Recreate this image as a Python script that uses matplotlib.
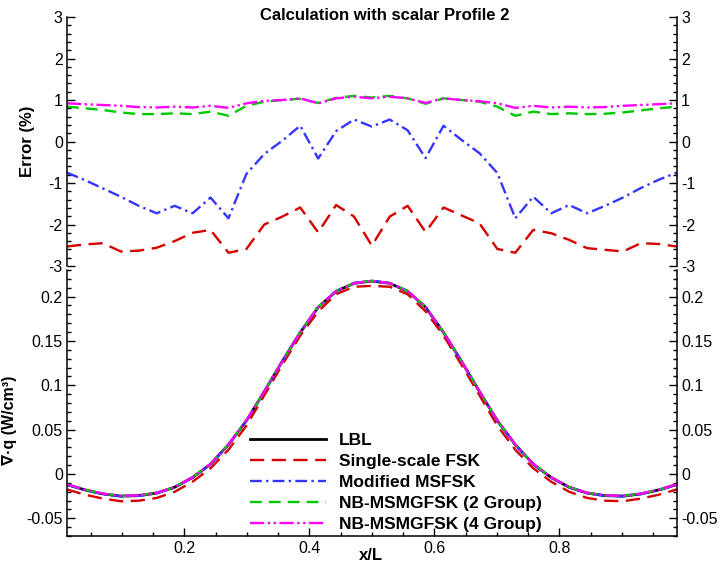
import matplotlib
matplotlib.use("Agg")
import matplotlib.pyplot as plt
from matplotlib.ticker import MultipleLocator, FormatStrFormatter

plt.rcParams['font.family'] = ['Liberation Sans', 'DejaVu Sans']
plt.rcParams['axes.unicode_minus'] = False

# x/L grid (cell centres, 35 points)
x_pos = [0.0123, 0.0410, 0.0697, 0.0984, 0.1271, 0.1558, 0.1845, 0.2132, 0.2419,
         0.2706, 0.2993, 0.3280, 0.3567, 0.3854, 0.4141, 0.4428, 0.4715, 0.5000,
         0.5285, 0.5572, 0.5859, 0.6146, 0.6433, 0.6720, 0.7007, 0.7294, 0.7581,
         0.7868, 0.8155, 0.8442, 0.8729, 0.9016, 0.9303, 0.9590, 0.9877]

# error (%)
err_single = [-2.53, -2.48, -2.45, -2.65, -2.63, -2.56, -2.40, -2.20, -2.13, -2.68,
              -2.59, -2.00, -1.81, -1.59, -2.19, -1.53, -1.81, -2.51, -1.81, -1.55,
              -2.18, -1.59, -1.78, -1.97, -2.59, -2.68, -2.13, -2.21, -2.37, -2.57,
              -2.61, -2.65, -2.45, -2.47, -2.53]
err_msfsk = [-0.75, -0.93, -1.13, -1.33, -1.55, -1.73, -1.55, -1.73, -1.35, -1.85,
             -0.78, -0.30, 0.02, 0.38, -0.41, 0.25, 0.53, 0.36, 0.53, 0.27,
             -0.40, 0.38, 0.04, -0.28, -0.76, -1.85, -1.33, -1.73, -1.53, -1.73,
             -1.55, -1.35, -1.12, -0.92, -0.75]
err_nb2 = [0.84, 0.80, 0.76, 0.70, 0.66, 0.66, 0.68, 0.66, 0.72, 0.62,
           0.86, 0.96, 1.00, 1.03, 0.93, 1.05, 1.10, 1.06, 1.10, 1.04,
           0.91, 1.04, 1.00, 0.96, 0.84, 0.62, 0.72, 0.66, 0.68, 0.66,
           0.67, 0.70, 0.75, 0.80, 0.84]
err_nb4 = [0.92, 0.90, 0.88, 0.86, 0.83, 0.82, 0.84, 0.82, 0.86, 0.81,
           0.92, 0.98, 1.00, 1.04, 0.92, 1.04, 1.08, 1.04, 1.08, 1.04,
           0.93, 1.04, 1.00, 0.97, 0.92, 0.81, 0.86, 0.82, 0.84, 0.82,
           0.83, 0.86, 0.88, 0.90, 0.92]

# div q (W/cm^3)
q_lbl = [-0.0120, -0.0180, -0.0225, -0.0250, -0.0245, -0.0215, -0.0150, -0.0040, 0.0110,
         0.0330, 0.0600, 0.0930, 0.1270, 0.1595, 0.1880, 0.2060, 0.2150, 0.2175,
         0.2150, 0.2060, 0.1880, 0.1595, 0.1270, 0.0930, 0.0600, 0.0330, 0.0110,
         -0.0040, -0.0150, -0.0215, -0.0245, -0.0250, -0.0225, -0.0180, -0.0120]
q_single = [-0.0175, -0.0234, -0.0278, -0.0308, -0.0302, -0.0271, -0.0202, -0.0088, 0.0064,
            0.0272, 0.0544, 0.0887, 0.1231, 0.1560, 0.1832, 0.2027, 0.2111, 0.2121,
            0.2111, 0.2026, 0.1833, 0.1560, 0.1231, 0.0887, 0.0544, 0.0272, 0.0064,
            -0.0088, -0.0201, -0.0271, -0.0302, -0.0308, -0.0278, -0.0234, -0.0175]
q_msfsk = [-0.0122, -0.0183, -0.0228, -0.0253, -0.0248, -0.0219, -0.0154, -0.0044, 0.0107,
           0.0326, 0.0598, 0.0929, 0.1270, 0.1597, 0.1879, 0.2061, 0.2153, 0.2177,
           0.2153, 0.2061, 0.1879, 0.1597, 0.1270, 0.0929, 0.0598, 0.0326, 0.0107,
           -0.0044, -0.0154, -0.0219, -0.0248, -0.0253, -0.0228, -0.0183, -0.0122]
q_nb2 = [-0.0118, -0.0178, -0.0223, -0.0248, -0.0243, -0.0213, -0.0148, -0.0038, 0.0112,
         0.0332, 0.0602, 0.0932, 0.1272, 0.1597, 0.1882, 0.2062, 0.2152, 0.2177,
         0.2152, 0.2062, 0.1882, 0.1597, 0.1272, 0.0932, 0.0602, 0.0332, 0.0112,
         -0.0038, -0.0148, -0.0213, -0.0243, -0.0248, -0.0223, -0.0178, -0.0118]
q_nb4 = [-0.0117, -0.0177, -0.0222, -0.0247, -0.0242, -0.0213, -0.0148, -0.0038, 0.0112,
         0.0332, 0.0602, 0.0932, 0.1272, 0.1597, 0.1882, 0.2062, 0.2152, 0.2177,
         0.2152, 0.2062, 0.1882, 0.1597, 0.1272, 0.0932, 0.0602, 0.0332, 0.0112,
         -0.0038, -0.0148, -0.0213, -0.0242, -0.0247, -0.0222, -0.0177, -0.0117]

labels = ['LBL', 'Single-scale FSK', 'Modified MSFSK',
          'NB-MSMGFSK (2 Group)', 'NB-MSMGFSK (4 Group)']

RED = '#d40000'
BLUE = '#3535ff'
GREEN = '#00c800'
MAGENTA = '#ff00ff'
LW = 1.7
TICK_SIZE = 11.5


def style_axis(ax):
    ax.spines['top'].set_visible(False)
    for side in ['left', 'right', 'bottom']:
        ax.spines[side].set_linewidth(1.1)
    ax.tick_params(axis='y', which='both', direction='in', left=True, right=True,
                   labelleft=True, labelright=True, labelsize=TICK_SIZE, width=1.0,
                   pad=3)
    ax.tick_params(axis='y', which='major', length=6)
    ax.tick_params(axis='y', which='minor', length=3)


def main():
    fig = plt.figure(figsize=(7.2, 5.69), dpi=100)
    ax_err = fig.add_axes([0.093, 0.5325, 0.847, 0.4376])
    ax_q = fig.add_axes([0.093, 0.058, 0.847, 0.4675])

    # upper panel: error relative to LBL
    ax_err.plot(x_pos, err_single, color=RED, lw=LW, dashes=(6, 3.2))
    ax_err.plot(x_pos, err_msfsk, color=BLUE, lw=LW, dashes=(5, 1.8, 1, 1.8))
    ax_err.plot(x_pos, err_nb2, color=GREEN, lw=LW, dashes=(5, 3))
    ax_err.plot(x_pos, err_nb4, color=MAGENTA, lw=LW, dashes=(6, 1.5, 1, 1.5, 1, 1.5))
    ax_err.set_xlim(0.0123, 0.9877)
    ax_err.set_ylim(-3, 3)
    style_axis(ax_err)
    ax_err.spines['bottom'].set_visible(False)
    ax_err.xaxis.set_visible(False)
    ax_err.yaxis.set_major_locator(MultipleLocator(1))
    ax_err.yaxis.set_minor_locator(MultipleLocator(0.2))
    ax_err.yaxis.set_major_formatter(FormatStrFormatter('%g'))
    ax_err.set_ylabel('Error (%)', fontsize=12, fontweight='bold')
    ax_err.yaxis.set_label_coords(-0.053, 0.5)

    # lower panel: divergence of heat flux
    ax_q.plot(x_pos, q_lbl, color='black', lw=2.0, label=labels[0])
    ax_q.plot(x_pos, q_single, color=RED, lw=LW, dashes=(6, 3.2), label=labels[1])
    ax_q.plot(x_pos, q_msfsk, color=BLUE, lw=LW, dashes=(5, 1.8, 1, 1.8), label=labels[2])
    ax_q.plot(x_pos, q_nb2, color=GREEN, lw=LW, dashes=(5, 3), label=labels[3])
    ax_q.plot(x_pos, q_nb4, color=MAGENTA, lw=LW, dashes=(6, 1.5, 1, 1.5, 1, 1.5),
              label=labels[4])
    ax_q.set_xlim(0.0123, 0.9877)
    ax_q.set_ylim(-0.07, 0.23)
    style_axis(ax_q)
    ax_q.yaxis.set_major_locator(MultipleLocator(0.05))
    ax_q.yaxis.set_minor_locator(MultipleLocator(0.01))
    ax_q.yaxis.set_major_formatter(FormatStrFormatter('%g'))
    ax_q.xaxis.set_major_locator(MultipleLocator(0.2))
    ax_q.xaxis.set_minor_locator(MultipleLocator(0.05))
    ax_q.xaxis.set_major_formatter(FormatStrFormatter('%g'))
    ax_q.tick_params(axis='x', which='both', direction='in', top=False, bottom=True,
                     labelsize=TICK_SIZE, width=1.0)
    ax_q.tick_params(axis='x', which='major', length=6)
    ax_q.tick_params(axis='x', which='minor', length=3)
    ax_q.set_ylabel('\u2207\u00b7q (W/cm\u00b3)', fontsize=11.5, fontweight='bold')
    ax_q.yaxis.set_label_coords(-0.082, 0.436)

    ax_q.legend(loc='lower left', bbox_to_anchor=(0.30, 0.015), frameon=False,
                prop={'weight': 'bold', 'size': 12.5}, handlelength=4.4,
                handletextpad=0.75, labelspacing=0.33, borderpad=0, borderaxespad=0)

    fig.text(0.534, 1 - 20 / 569, 'Calculation with scalar Profile 2', ha='center',
             va='baseline', fontsize=12, fontweight='bold')
    fig.text(371 / 720, 1 - 556 / 569, 'x/L', ha='center', va='center',
             fontsize=12, fontweight='bold')

    fig.savefig('out.png', dpi=100)
    plt.close(fig)


if __name__ == "__main__":
    main()
